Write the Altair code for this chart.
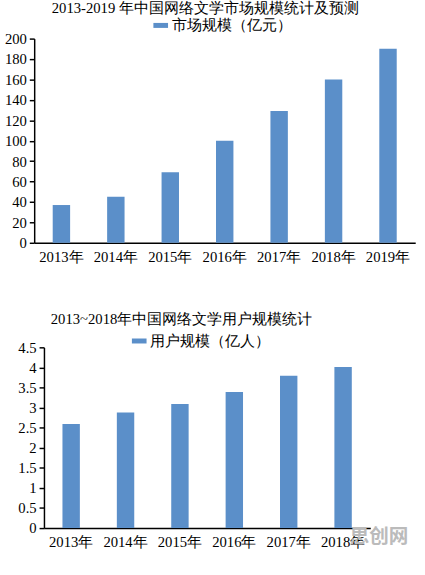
import altair as alt
import pandas as pd

FONT = "Liberation Serif"
BAR = "#5b8fc9"

years1 = ["2013年", "2014年", "2015年", "2016年", "2017年", "2018年", "2019年"]
market = [37, 45, 69, 100, 129, 160, 190]
years2 = ["2013年", "2014年", "2015年", "2016年", "2017年", "2018年"]
users = [2.59, 2.88, 3.09, 3.39, 3.79, 4.01]

title1 = "2013-2019 年中国网络文学市场规模统计及预测"
title2 = "2013~2018年中国网络文学用户规模统计"
legend1 = "市场规模（亿元）"
legend2 = "用户规模（亿人）"

df1 = pd.DataFrame({"year": years1, "value": market, "series": legend1})
df2 = pd.DataFrame({"year": years2, "value": users, "series": legend2})

RECT = "M-1,-0.34H1V0.34H-1Z"


def make(df, order, ymax, ystep, width, height, xrange, yoffset,
         title, tdx, toff, lx, ly, fmt):
    xscale = dict(paddingInner=0.68, paddingOuter=0.34)
    if xrange is not None:
        xscale["range"] = xrange
    bars = alt.Chart(df).mark_bar(color=BAR).encode(
        x=alt.X("year:N", sort=order, title=None,
                scale=alt.Scale(**xscale),
                axis=alt.Axis(labelAngle=0, ticks=False, labelPadding=7,
                              domainColor="black", domainWidth=1.5,
                              labelFont=FONT, labelFontSize=15, labelColor="black")),
        y=alt.Y("value:Q", title=None,
                scale=alt.Scale(domain=[0, ymax], nice=False),
                axis=alt.Axis(values=[round(i * ystep, 2) for i in range(int(round(ymax / ystep)) + 1)],
                              format=fmt, grid=False, tickSize=5, tickColor="black",
                              domainColor="black", domainWidth=1.5, tickWidth=1.5,
                              labelFont=FONT, labelFontSize=15, labelColor="black",
                              labelPadding=3, offset=yoffset,
                              minExtent=45 - yoffset, maxExtent=45 - yoffset)),
        fill=alt.Fill("series:N", scale=alt.Scale(range=[BAR]),
                      legend=alt.Legend(title=None, orient="none", legendX=lx, legendY=ly,
                                        symbolType=RECT, symbolSize=225, symbolStrokeWidth=0,
                                        labelFont=FONT, labelFontSize=15, labelColor="black",
                                        labelOffset=4)),
    )
    return bars.properties(
        width=width, height=height,
        title=alt.TitleParams(title, anchor="start", frame="group", dx=tdx, offset=toff,
                              font=FONT, fontSize=15, fontWeight="normal", color="black"),
    )


top = make(df1, years1, 200, 20, 380, 209, [-10, 380], 10,
           title1, 8, 2, 112, -21, "d")
bottom_bars = make(df2, years2, 4.5, 0.5, 334, 185, None, 0,
                   title2, 7, 7, 90, -14, "")

watermark = alt.Chart(pd.DataFrame({"t": ["思创网"]})).mark_text(
    font="Noto Sans CJK SC", fontSize=20, fontWeight="bold", color="#bbbbbb", align="left"
).encode(x=alt.value(313), y=alt.value(194), text="t:N")

bottom = alt.layer(bottom_bars, watermark)

chart = alt.concat(top, bottom, columns=1, spacing=49).resolve_scale(
    fill="independent"
).configure(
    padding={"left": 0, "top": -5, "right": 0, "bottom": -2}
).configure_view(stroke=None)

chart.save("out.html", embed_options={"renderer": "svg", "actions": False})
